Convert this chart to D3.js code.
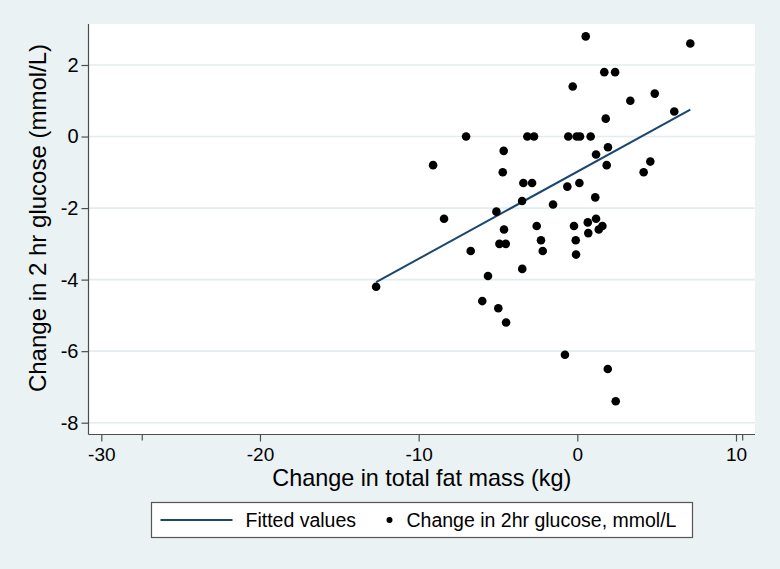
<!DOCTYPE html>
<html>
<head>
<meta charset="utf-8">
<script src="https://cdn.jsdelivr.net/npm/d3@7"></script>
<style>
  html, body { margin: 0; padding: 0; background: #eaf2f3; }
  svg { display: block; font-family: "Liberation Sans", Arial, sans-serif; }
</style>
</head>
<body>
<svg id="chart" width="780" height="569"></svg>
<script>
// ---- data ----
const fatMassChange = [
  -7.01, -3.15, -2.73, -4.64, -9.09, -4.70, 0.53, 7.12, 1.70, 2.38,
  -0.29, 4.88, 3.34, 6.11, 1.79, -0.57, -0.04, 0.17, 0.84, 1.93,
  1.18, 1.85, 4.60, 4.18, -3.40, -2.85, -3.48, -1.53, -5.10, -8.40,
  -4.62, -2.56, -4.91, -4.51, -2.29, -2.18, -6.72, -3.47, -5.63, -12.68,
  -5.99, -4.98, -4.49, -0.63, 0.13, 1.13, -0.21, 0.66, 1.18, 1.58,
  1.35, 0.69, -0.10, -0.08, -0.78, 1.92, 2.42
];
const glucoseChange = [
  0.0, 0.0, 0.0, -0.4, -0.8, -1.0, 2.8, 2.6, 1.8, 1.8,
  1.4, 1.2, 1.0, 0.7, 0.5, 0.0, 0.0, 0.0, 0.0, -0.3,
  -0.5, -0.8, -0.7, -1.0, -1.3, -1.3, -1.8, -1.9, -2.1, -2.3,
  -2.6, -2.5, -3.0, -3.0, -2.9, -3.2, -3.2, -3.7, -3.9, -4.2,
  -4.6, -4.8, -5.2, -1.4, -1.3, -1.7, -2.5, -2.4, -2.3, -2.5,
  -2.6, -2.7, -2.9, -3.3, -6.1, -6.5, -7.4
];
const fitX = [-12.68, 7.12];
const fitY = [-4.07, 0.75];
const xTicks = [-30, -20, -10, 0, 10];
const xExtraTicks = [-27.42, 10.42];
const yTicks = [-8, -6, -4, -2, 0, 2];
const xTitle = "Change in total fat mass (kg)";
const yTitle = "Change in 2 hr glucose (mmol/L)";
const legendLabels = ["Fitted values", "Change in 2hr glucose, mmol/L"];

// ---- layout ----
const svg = d3.select("#chart");
const W = 780, H = 569;
const plot = { left: 88.5, right: 755, top: 24, bottom: 434.5 };
const bg = "#eaf2f3";
const lineColor = "#1a476f";
const axisColor = "#4d4d4d";

svg.append("rect").attr("width", W).attr("height", H).attr("fill", bg);

const x = d3.scaleLinear().domain([-30, 10]).range([101.3, 736]);
const y = d3.scaleLinear().domain([-8, 2]).range([422.7, 65]);

// plot region
svg.append("rect")
  .attr("x", plot.left).attr("y", plot.top)
  .attr("width", plot.right - plot.left).attr("height", plot.bottom - plot.top)
  .attr("fill", "#ffffff");

// grid lines
svg.append("g").selectAll("line").data(yTicks).join("line")
  .attr("x1", plot.left).attr("x2", plot.right)
  .attr("y1", d => y(d)).attr("y2", d => y(d))
  .attr("stroke", "#e3ecee").attr("stroke-width", 1.6);

// y axis
const yAxis = svg.append("g")
  .attr("transform", `translate(${plot.left},0)`)
  .call(d3.axisLeft(y).tickValues(yTicks).tickSize(7).tickPadding(3).tickFormat(d3.format("d")));
yAxis.select(".domain").remove();
yAxis.append("line").attr("x1", 0).attr("x2", 0).attr("y1", plot.top).attr("y2", plot.bottom)
  .attr("stroke", axisColor).attr("stroke-width", 1.2);
yAxis.selectAll(".tick line").attr("stroke", axisColor).attr("stroke-width", 1.2);
yAxis.selectAll(".tick text").attr("font-size", 20).attr("fill", "#000")
  .attr("font-family", "Liberation Sans, Arial, sans-serif").text(d => d < 0 ? "-" + Math.abs(d) : d);

// x axis
const xAxis = svg.append("g")
  .attr("transform", `translate(0,${plot.bottom})`)
  .call(d3.axisBottom(x).tickValues(xTicks).tickSize(7).tickPadding(6));
xAxis.select(".domain").remove();
xAxis.append("line").attr("x1", plot.left).attr("x2", plot.right).attr("y1", 0).attr("y2", 0)
  .attr("stroke", axisColor).attr("stroke-width", 1.2);
xAxis.selectAll(".tick line").attr("stroke", axisColor).attr("stroke-width", 1.2);
xAxis.selectAll(".tick text").attr("font-size", 19).attr("fill", "#000")
  .attr("font-family", "Liberation Sans, Arial, sans-serif").text(d => d < 0 ? "-" + Math.abs(d) : d);
xAxis.append("g").selectAll("line").data(xExtraTicks).join("line")
  .attr("x1", d => x(d)).attr("x2", d => x(d)).attr("y1", 0).attr("y2", 6)
  .attr("stroke", axisColor).attr("stroke-width", 1.2);

// fitted line
const fitPts = fitX.map((v, i) => [v, fitY[i]]);
svg.append("path")
  .attr("d", d3.line().x(d => x(d[0])).y(d => y(d[1]))(fitPts))
  .attr("fill", "none").attr("stroke", lineColor).attr("stroke-width", 2);

// points
const pts = fatMassChange.map((v, i) => [v, glucoseChange[i]]);
svg.append("g").selectAll("circle").data(pts).join("circle")
  .attr("cx", d => x(d[0])).attr("cy", d => y(d[1])).attr("r", 4.3)
  .attr("fill", "#000");

// titles
svg.append("text")
  .attr("x", (plot.left + plot.right) / 2).attr("y", 486)
  .attr("text-anchor", "middle").attr("font-size", 23.4).attr("fill", "#000")
  .text(xTitle);
svg.append("text")
  .attr("transform", "translate(46,218) rotate(-90)")
  .attr("text-anchor", "middle").attr("font-size", 24).attr("fill", "#000")
  .text(yTitle);

// legend
const lg = svg.append("g");
lg.append("rect").attr("x", 151.5).attr("y", 502.5).attr("width", 541).attr("height", 35)
  .attr("fill", "#fff").attr("stroke", "#555").attr("stroke-width", 1.2);
lg.append("line").attr("x1", 160.5).attr("x2", 232.5).attr("y1", 520).attr("y2", 520)
  .attr("stroke", lineColor).attr("stroke-width", 2);
lg.append("text").attr("x", 245.5).attr("y", 527).attr("font-size", 19.5).attr("fill", "#000")
  .text(legendLabels[0]);
lg.append("circle").attr("cx", 389.5).attr("cy", 520).attr("r", 3).attr("fill", "#000");
lg.append("text").attr("x", 406.5).attr("y", 527).attr("font-size", 19.5).attr("fill", "#000")
  .text(legendLabels[1]);
</script>
</body>
</html>
